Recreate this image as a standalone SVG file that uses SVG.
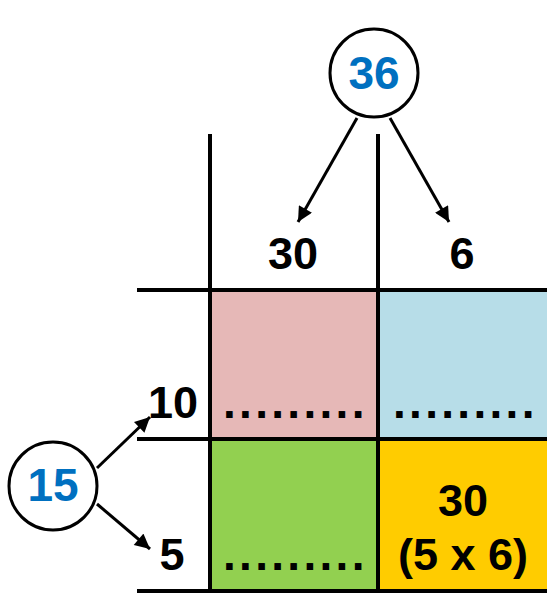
<svg xmlns="http://www.w3.org/2000/svg" width="549" height="596" viewBox="0 0 549 596">
  <defs>
    <style>
      .num { font-family: "Liberation Sans", Arial, sans-serif; font-weight: bold; font-size: 45px; fill: #000; }
      .blue { fill: #0070C0; font-size: 46px; }
      .dots { font-family: "Liberation Sans", Arial, sans-serif; font-weight: bold; font-size: 46px; fill: #000; letter-spacing: 3.3px; }
      .grid { stroke: #000; stroke-width: 4; fill: none; }
      .ring { stroke: #000; stroke-width: 3; fill: #fff; }
      .arrow { stroke: #000; stroke-width: 3; fill: none; marker-end: url(#ah); }
    </style>
    <marker id="ah" viewBox="0 0 10 10" refX="10" refY="5" markerWidth="16" markerHeight="15" markerUnits="userSpaceOnUse" orient="auto">
      <path d="M0,0 L10,5 L0,10 Z" fill="#000"/>
    </marker>
  </defs>

  <g id="cells">
    <rect id="cell-pink" x="210" y="290" width="168" height="149" fill="#E6B8B7"/>
    <rect id="cell-blue" x="378" y="290" width="169" height="149" fill="#B7DDE8"/>
    <rect id="cell-green" x="210" y="439" width="168" height="152" fill="#92D050"/>
    <rect id="cell-yellow" x="378" y="439" width="169" height="152" fill="#FFCC00"/>
  </g>

  <g id="grid">
    <line class="grid" x1="210" y1="134" x2="210" y2="593"/>
    <line class="grid" x1="378" y1="134" x2="378" y2="593"/>
    <line class="grid" x1="137" y1="290" x2="547" y2="290"/>
    <line class="grid" x1="137" y1="439" x2="547" y2="439"/>
    <line class="grid" x1="137" y1="591" x2="547" y2="591"/>
  </g>

  <g id="connectors">
    <line class="arrow" x1="357" y1="118" x2="298" y2="222"/>
    <line class="arrow" x1="390" y1="118" x2="449" y2="222"/>
    <line class="arrow" x1="97" y1="468" x2="150" y2="417"/>
    <line class="arrow" x1="97" y1="504" x2="150" y2="549"/>
  </g>

  <g id="node-36">
    <circle class="ring" cx="374" cy="73" r="44"/>
    <text class="num blue" x="374" y="89" text-anchor="middle">36</text>
  </g>

  <g id="node-15">
    <circle class="ring" cx="53" cy="486" r="44"/>
    <text class="num blue" x="53" y="501" text-anchor="middle">15</text>
  </g>

  <g id="label-30">
    <text class="num" x="293" y="269" text-anchor="middle">30</text>
  </g>
  <g id="label-6">
    <text class="num" x="462" y="269" text-anchor="middle">6</text>
  </g>
  <g id="label-10">
    <text class="num" x="173" y="418" text-anchor="middle">10</text>
  </g>
  <g id="label-5">
    <text class="num" x="172" y="570" text-anchor="middle">5</text>
  </g>

  <g id="cell-texts">
    <text class="dots" x="223" y="418">.........</text>
    <text class="dots" x="393" y="418">.........</text>
    <text class="dots" x="223" y="570">.........</text>
    <text class="num" x="463" y="516" text-anchor="middle">30</text>
    <text class="num" x="463" y="570" text-anchor="middle">(5 x 6)</text>
  </g>
</svg>
